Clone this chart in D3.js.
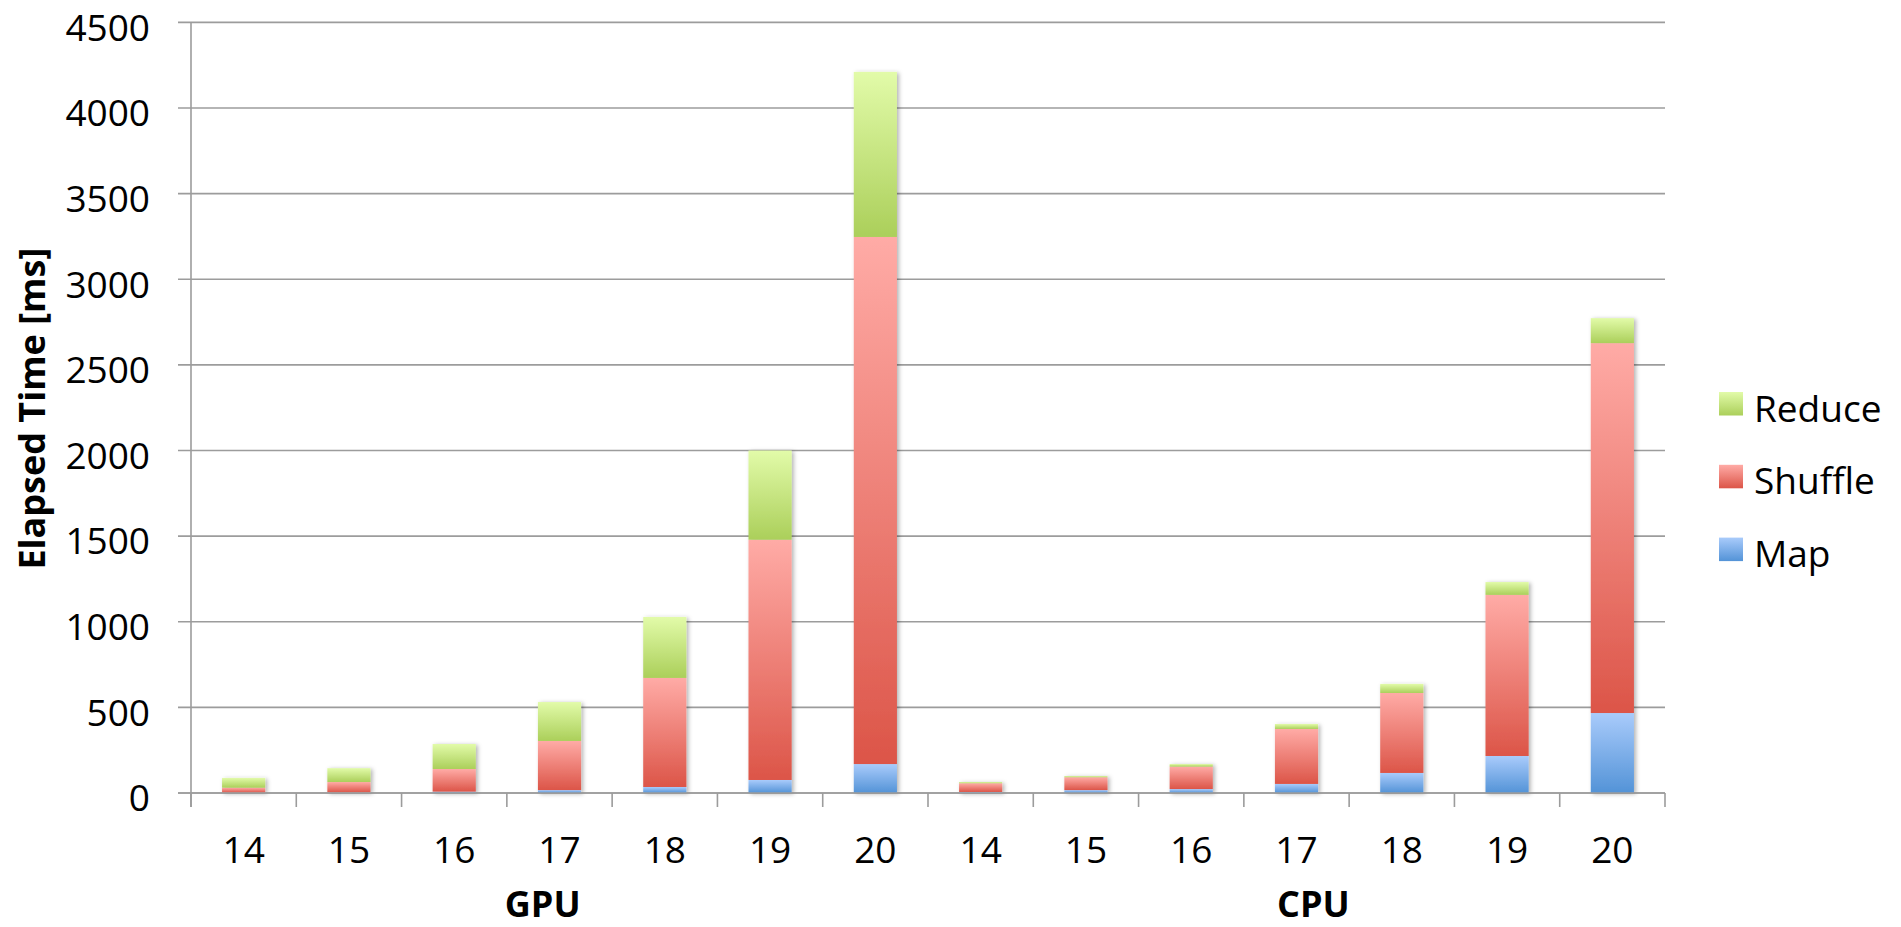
<!DOCTYPE html>
<html>
<head>
<meta charset="utf-8">
<script src="https://cdn.jsdelivr.net/npm/d3@7"></script>
<style>
  html, body { margin: 0; padding: 0; background: #fff; }
  svg { display: block; }
  text { font-family: "Open Sans", "Noto Sans", sans-serif; fill: #000; }
</style>
</head>
<body>
<svg id="chart" width="1901" height="927"></svg>
<script>
// Problem sizes (log2 of input) per processor group
const groups = ["GPU", "CPU"];
const sizes = ["14", "15", "16", "17", "18", "19", "20"];
const seriesNames = ["Map", "Shuffle", "Reduce"];

// Elapsed time per phase [ms], stacked Map -> Shuffle -> Reduce
const gpuMap     = [2, 3, 8, 17, 35, 76, 169];
const gpuShuffle = [29, 61, 132, 287, 637, 1403, 3078];
const gpuReduce  = [57, 81, 146, 227, 356, 521, 964];
const cpuMap     = [6, 17, 23, 53, 117, 216, 467];
const cpuShuffle = [51, 75, 131, 321, 467, 941, 2160];
const cpuReduce  = [7, 7, 15, 29, 53, 75, 146];

const yTicks = [0, 500, 1000, 1500, 2000, 2500, 3000, 3500, 4000, 4500];
const yTitle = "Elapsed Time [ms]";

const palette = {
  Map:     ["#a9cbfb", "#5393d7"],
  Shuffle: ["#ffaba6", "#dc5548"],
  Reduce:  ["#e2fba9", "#abcf5a"]
};

// Flatten into rows: one per bar
const rows = [];
groups.forEach(g => {
  const m = g === "GPU" ? gpuMap : cpuMap;
  const s = g === "GPU" ? gpuShuffle : cpuShuffle;
  const r = g === "GPU" ? gpuReduce : cpuReduce;
  sizes.forEach((sz, i) => {
    rows.push({ key: g + "-" + sz, group: g, label: sz, Map: m[i], Shuffle: s[i], Reduce: r[i] });
  });
});

const svg = d3.select("#chart");
const plotLeft = 191, plotRight = 1665, plotTop = 22.4, plotBottom = 793;

const x = d3.scaleBand()
  .domain(rows.map(d => d.key))
  .range([plotLeft, plotRight])
  .paddingInner(0.59)
  .paddingOuter(0.295);

const y = d3.scaleLinear().domain([0, 4500]).range([plotBottom, plotTop]);

// Gradients and shadow
const defs = svg.append("defs");
seriesNames.forEach(n => {
  const g = defs.append("linearGradient")
    .attr("id", "grad-" + n)
    .attr("x1", 0).attr("y1", 0).attr("x2", 0).attr("y2", 1);
  g.append("stop").attr("offset", "0%").attr("stop-color", palette[n][0]);
  g.append("stop").attr("offset", "100%").attr("stop-color", palette[n][1]);
});
const shadow = defs.append("filter").attr("id", "shadow")
  .attr("x", "-20%").attr("y", "-5%").attr("width", "150%").attr("height", "115%");
shadow.append("feDropShadow")
  .attr("dx", 2).attr("dy", 1).attr("stdDeviation", 2)
  .attr("flood-color", "#000").attr("flood-opacity", 0.3);

// Horizontal gridlines with left tick stubs
svg.append("g").selectAll("line")
  .data(yTicks)
  .join("line")
  .attr("x1", plotLeft - 13).attr("x2", plotRight)
  .attr("y1", d => y(d)).attr("y2", d => y(d))
  .attr("stroke", "#9c9c9c").attr("stroke-width", 1.6);

// Y axis labels
const yAxis = d3.axisLeft(y).tickValues(yTicks).tickFormat(d3.format("d")).tickSize(0).tickPadding(0);
const yG = svg.append("g").attr("transform", `translate(${plotLeft - 41},0)`).call(yAxis);
yG.select(".domain").remove();
yG.selectAll("text")
  .attr("font-size", 37)
  .attr("font-family", "\"Open Sans\", sans-serif")
  .attr("fill", "#000")
  .attr("dy", "0.48em");

// Stacked bars
const stack = d3.stack().keys(seriesNames);
const stacked = stack(rows);

const barG = svg.append("g").attr("filter", "url(#shadow)");
stacked.forEach(layer => {
  barG.append("g")
    .selectAll("rect")
    .data(layer)
    .join("rect")
    .attr("x", d => x(d.data.key))
    .attr("width", x.bandwidth())
    .attr("y", d => y(d[1]))
    .attr("height", d => Math.max(0, y(d[0]) - y(d[1])))
    .attr("fill", `url(#grad-${layer.key})`);
});

// Axis lines
svg.append("line")
  .attr("x1", plotLeft).attr("x2", plotLeft)
  .attr("y1", plotTop).attr("y2", plotBottom + 14)
  .attr("stroke", "#9c9c9c").attr("stroke-width", 1.6);
svg.append("line")
  .attr("x1", plotLeft - 13).attr("x2", plotRight)
  .attr("y1", plotBottom).attr("y2", plotBottom)
  .attr("stroke", "#9c9c9c").attr("stroke-width", 1.6);

// Category boundary ticks
const step = x.step();
const boundaries = d3.range(rows.length + 1).map(i => plotLeft + i * step);
svg.append("g").selectAll("line")
  .data(boundaries)
  .join("line")
  .attr("x1", d => d).attr("x2", d => d)
  .attr("y1", plotBottom).attr("y2", plotBottom + 14)
  .attr("stroke", "#9c9c9c").attr("stroke-width", 1.6);

// Category labels
const xAxis = d3.axisBottom(x).tickSize(0).tickPadding(0).tickFormat(k => k.split("-")[1]);
const xG = svg.append("g").attr("transform", `translate(0,${plotBottom})`).call(xAxis);
xG.select(".domain").remove();
xG.selectAll("text")
  .attr("font-size", 37)
  .attr("font-family", "\"Open Sans\", sans-serif")
  .attr("fill", "#000")
  .attr("dy", 0)
  .attr("y", 70);

// Group labels
const mid = (plotLeft + plotRight) / 2;
svg.append("g").selectAll("text")
  .data(groups)
  .join("text")
  .attr("x", g => {
    const keys = rows.filter(r => r.group === g).map(r => r.key);
    const c = (x(keys[0]) + x(keys[keys.length - 1]) + x.bandwidth()) / 2;
    return c + (c < mid ? -1 : 1) * 0.16 * step;
  })
  .attr("y", 917)
  .attr("text-anchor", "middle")
  .attr("font-size", 36)
  .attr("font-weight", "bold")
  .text(g => g);

// Y axis title
svg.append("text")
  .attr("transform", `translate(45,${(plotTop + plotBottom) / 2 + 1}) rotate(-90)`)
  .attr("text-anchor", "middle")
  .attr("font-size", 36)
  .attr("font-weight", "bold")
  .text(yTitle);

// Legend (Reduce on top)
const legendItems = seriesNames.slice().reverse();
const lg = svg.append("g").attr("transform", "translate(1719,392)");
const li = lg.selectAll("g")
  .data(legendItems)
  .join("g")
  .attr("transform", (d, i) => `translate(0,${i * 72.8})`);
li.append("rect")
  .attr("width", 24).attr("height", 23.5)
  .attr("fill", d => `url(#grad-${d})`);
li.append("text")
  .attr("x", 35).attr("y", 29.5)
  .attr("font-size", 37)
  .text(d => d);
</script>
</body>
</html>
